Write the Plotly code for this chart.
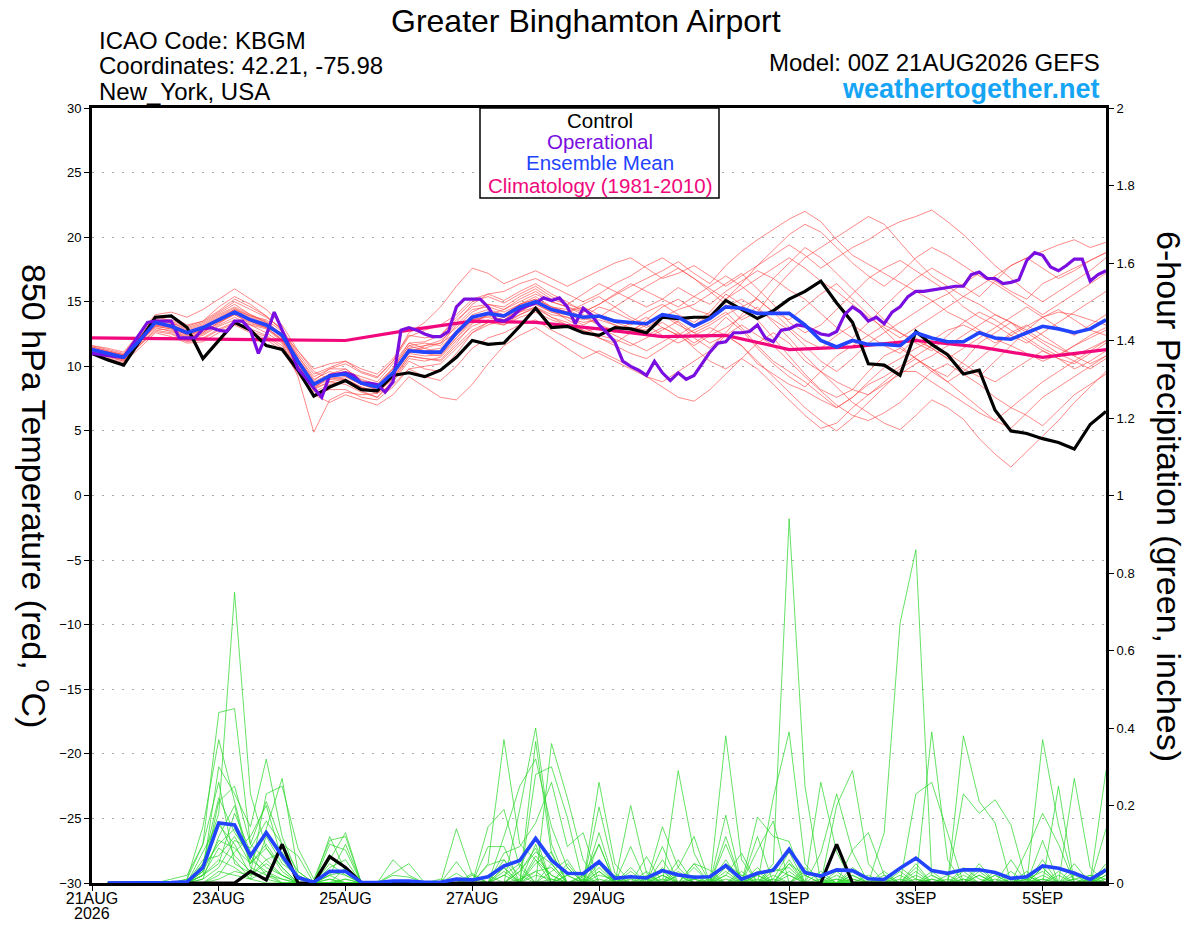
import pandas as pd
import plotly.graph_objects as go

# ---------------- DATA ----------------
run_start = "2026-08-21 00:00"
tick_dates = ["2026-08-21", "2026-08-23", "2026-08-25", "2026-08-27",
              "2026-08-29", "2026-09-01", "2026-09-03", "2026-09-05"]
tick_labels = ["21AUG", "23AUG", "25AUG", "27AUG", "29AUG", "1SEP", "3SEP", "5SEP"]
year_label = "2026"

# 850 hPa temperature (deg C), 6-hourly, 0..384 h
control_temp = [11.0, 10.5, 10.1, 12.0, 13.8, 13.9, 13.0, 10.6, 12.0, 13.4, 12.8, 11.6, 11.3,
                9.7, 7.7, 8.4, 8.9, 8.2, 8.1, 9.3, 9.5, 9.2, 9.7, 10.7, 12.0, 11.7,
                11.8, 13.1, 14.5, 13.0, 13.1, 12.6, 12.4, 13.0, 12.9, 12.6, 13.8, 13.7, 13.8,
                13.8, 15.1, 14.4, 13.7, 14.3, 15.2, 15.8, 16.6, 14.9, 13.4, 10.2, 10.1, 9.3,
                12.7, 11.7, 10.9, 9.4, 9.7, 6.6, 5.0, 4.8, 4.4, 4.1, 3.6, 5.5, 6.5]

ens_mean_temp = [11.3, 11.0, 10.7, 12.0, 13.4, 13.1, 12.6, 13.0, 13.6, 14.2, 13.6, 13.2, 12.4,
                 10.4, 8.6, 9.25, 9.4, 8.7, 8.4, 9.5, 11.2, 11.1, 11.1, 12.6, 13.8, 14.1,
                 13.9, 14.6, 15.0, 14.4, 14.1, 13.8, 13.9, 13.5, 13.4, 13.3, 14.0, 13.8, 13.1,
                 13.7, 14.6, 14.5, 14.1, 14.1, 14.1, 13.2, 12.0, 11.5, 12.0, 11.7, 11.7, 11.6,
                 12.6, 12.2, 11.9, 11.9, 12.6, 12.2, 12.1, 12.6, 13.1, 12.9, 12.6, 12.9, 13.6]

# operational run, 3-hourly, 0..384 h
operational_temp = [11.0, 10.9, 10.8, 10.75, 10.7, 11.6, 12.5, 13.4, 13.5, 13.5, 13.5, 12.2, 12.2,
                    12.2, 12.9, 13.0, 12.8, 12.7, 13.5, 13.5, 12.8, 11.0, 12.4, 14.2, 12.8, 11.4,
                    9.8, 9.1, 8.3, 7.6, 9.3, 9.4, 9.5, 9.3, 8.7, 8.7, 8.6, 8.0, 8.8,
                    12.8, 13.0, 12.8, 12.5, 12.3, 12.3, 12.7, 14.6, 15.2, 15.2, 15.2, 14.6, 13.6,
                    13.5, 13.8, 14.4, 14.7, 14.9, 15.3, 15.1, 15.3, 14.6, 13.3, 14.5, 14.0, 13.2,
                    12.6, 11.9, 10.4, 10.0, 9.7, 9.3, 10.4, 9.5, 8.9, 9.5, 9.0, 9.3, 10.2,
                    11.1, 11.8, 11.9, 12.6, 12.6, 12.7, 13.2, 12.2, 11.9, 12.8, 12.9, 13.2, 13.1,
                    12.8, 12.5, 12.4, 12.7, 14.0, 14.6, 14.2, 13.5, 13.8, 13.3, 14.2, 14.6, 15.4,
                    15.8, 15.8, 15.9, 16.0, 16.1, 16.2, 16.2, 17.1, 17.3, 16.8, 16.8, 16.4, 16.5,
                    16.7, 18.2, 18.8, 18.6, 17.7, 17.4, 17.8, 18.3, 18.3, 16.6, 17.1, 17.4]

# climatology (1981-2010), daily
climatology_temp = [12.2, 12.15, 12.1, 12.05, 12.0, 12.8, 13.5, 13.4, 12.9,
                    12.3, 12.4, 11.3, 11.5, 12.0, 11.5, 10.7, 11.3]

# ensemble members, 850 hPa temperature, 6-hourly
member_temps = [
    [11.5, 11.2, 10.9, 12.4, 13.8, 13.9, 13.2, 13.5, 14.6, 15.4, 14.8, 13.9, 12.8,
     10.6, 8.9, 9.8, 10.2, 9.5, 9.1, 10.4, 12.3, 12.8, 13.2, 14.0, 15.2, 15.6,
     15.1, 15.8, 16.4, 15.6, 15.0, 14.2, 14.8, 15.5, 16.2, 16.8, 17.4, 18.1, 17.2,
     16.4, 17.8, 18.9, 19.8, 20.6, 21.4, 22.0, 21.2, 19.8, 18.6, 17.9, 17.2, 16.5,
     15.8, 15.1, 14.2, 13.6, 12.8, 12.1, 11.6, 11.0, 10.4, 10.9, 11.6, 12.2, 12.8],
    [11.2, 10.9, 10.6, 11.6, 12.9, 12.8, 12.1, 12.4, 13.1, 13.6, 13.2, 12.6, 11.8,
     9.2, 4.9, 7.4, 8.0, 7.8, 7.9, 8.6, 9.8, 10.0, 10.2, 11.4, 12.6, 13.4,
     13.8, 14.2, 14.9, 14.4, 13.6, 13.0, 12.4, 12.1, 11.6, 12.2, 12.8, 13.5, 12.6,
     11.8, 12.4, 11.6, 10.2, 9.4, 8.6, 8.1, 7.4, 6.8, 7.6, 8.8, 9.9, 10.6,
     11.4, 12.0, 12.8, 13.2, 12.6, 11.8, 12.4, 13.1, 13.8, 14.2, 14.0, 13.6, 13.2],
    [11.0, 10.8, 10.4, 12.2, 13.1, 12.9, 12.2, 12.6, 13.4, 14.0, 13.3, 13.0, 12.0,
     10.2, 8.0, 8.6, 8.8, 8.1, 7.6, 8.9, 10.6, 10.4, 10.7, 12.0, 13.1, 13.6,
     13.2, 14.0, 14.5, 13.8, 13.2, 12.6, 13.0, 12.4, 11.8, 11.2, 11.9, 12.6, 11.4,
     10.4, 9.8, 10.6, 11.8, 12.6, 11.8, 10.4, 9.6, 8.4, 7.2, 6.4, 5.6, 5.1,
     6.2, 7.4, 6.8, 5.9, 4.4, 3.2, 2.2, 3.4, 4.6, 5.8, 7.2, 8.4, 9.6],
    [11.6, 11.3, 11.0, 12.5, 13.9, 13.5, 13.0, 13.4, 14.2, 15.0, 14.4, 13.8, 12.9,
     11.0, 9.4, 9.9, 10.4, 9.8, 9.4, 10.6, 12.4, 12.2, 12.4, 13.8, 15.0, 15.4,
     14.9, 15.6, 16.2, 15.4, 14.8, 15.6, 16.4, 15.8, 15.2, 14.6, 15.2, 16.1, 15.4,
     14.8, 15.8, 16.6, 17.4, 16.8, 15.9, 15.2, 14.1, 13.0, 12.2, 13.4, 14.6, 15.8,
     16.8, 17.6, 16.9, 16.2, 15.4, 16.6, 17.8, 18.4, 18.9, 19.4, 19.8, 19.2, 19.6],
    [11.3, 11.0, 10.7, 11.8, 13.2, 13.0, 12.4, 12.7, 13.3, 14.1, 13.5, 13.1, 12.6,
     11.2, 9.6, 9.0, 9.0, 8.4, 8.0, 9.0, 10.8, 10.6, 10.5, 11.8, 13.3, 14.0,
     14.4, 15.2, 15.8, 15.0, 14.6, 14.0, 13.2, 12.6, 13.4, 14.2, 14.8, 14.0, 13.4,
     14.2, 15.6, 14.8, 13.6, 12.2, 10.8, 9.4, 8.2, 7.6, 8.2, 9.6, 10.8, 11.4,
     10.6, 9.8, 9.2, 10.4, 11.8, 12.6, 13.4, 12.2, 11.4, 10.8, 11.6, 12.4, 13.0],
    [11.4, 11.1, 10.8, 12.0, 13.6, 13.4, 12.8, 13.2, 14.0, 14.6, 14.0, 13.4, 12.2,
     10.0, 8.2, 9.4, 9.8, 8.9, 8.6, 9.8, 11.6, 11.8, 11.6, 13.2, 14.4, 14.6,
     14.2, 14.8, 15.4, 14.6, 14.2, 13.8, 14.6, 14.2, 13.6, 13.0, 13.8, 14.4, 14.8,
     15.6, 16.4, 17.2, 16.0, 14.8, 13.4, 12.6, 13.2, 14.4, 15.6, 16.8, 17.6, 18.2,
     17.4, 16.6, 15.8, 14.6, 13.8, 13.2, 12.4, 11.8, 12.6, 13.4, 14.2, 15.0, 15.8],
    [10.9, 10.6, 10.3, 11.4, 12.6, 12.3, 11.8, 11.9, 12.6, 13.2, 12.6, 12.1, 11.2,
     9.4, 7.8, 8.2, 8.2, 7.6, 7.4, 8.4, 9.8, 9.2, 8.9, 10.0, 11.4, 12.2,
     12.6, 13.2, 13.6, 12.8, 12.2, 11.6, 11.0, 10.4, 9.8, 9.2, 8.8, 9.6, 10.4,
     11.2, 12.4, 13.2, 12.4, 11.6, 10.4, 9.2, 8.1, 7.0, 6.2, 5.8, 6.4, 7.2,
     8.4, 9.6, 10.2, 9.4, 8.6, 7.6, 6.8, 6.2, 5.4, 6.6, 7.8, 8.6, 9.4],
    [11.1, 10.9, 10.5, 12.1, 13.3, 13.2, 12.7, 13.0, 13.8, 14.4, 13.8, 13.3, 12.5,
     10.8, 9.0, 9.6, 9.2, 8.6, 8.2, 9.2, 11.0, 11.6, 12.0, 13.0, 14.2, 14.8,
     14.6, 15.4, 16.0, 15.2, 14.8, 14.4, 13.8, 14.6, 15.4, 16.2, 16.9, 17.6, 16.8,
     15.8, 14.8, 13.6, 14.2, 15.8, 17.2, 18.4, 19.2, 20.0, 20.8, 21.6, 21.0, 19.6,
     18.2, 17.0, 16.2, 15.4, 14.8, 14.0, 13.4, 12.8, 12.0, 11.4, 10.8, 11.4, 12.0],
    [11.4, 11.1, 10.9, 12.3, 13.5, 13.0, 12.4, 12.8, 13.6, 14.4, 13.9, 13.6, 12.7,
     10.4, 8.4, 9.1, 9.6, 9.2, 8.8, 10.2, 11.8, 11.4, 11.0, 12.4, 13.6, 13.9,
     13.6, 14.4, 14.8, 14.2, 14.0, 13.6, 13.9, 13.4, 13.0, 12.8, 13.4, 12.6, 11.8,
     12.6, 13.8, 12.8, 11.4, 10.2, 9.2, 8.4, 9.6, 10.8, 11.6, 12.4, 13.2, 12.6,
     11.8, 11.2, 12.4, 13.4, 14.2, 13.6, 12.8, 12.0, 11.2, 10.6, 10.2, 11.0, 11.8],
    [11.2, 11.0, 10.6, 11.9, 13.0, 12.7, 12.2, 12.5, 13.2, 13.8, 13.2, 12.9, 11.9,
     9.8, 8.6, 9.2, 9.0, 8.4, 8.0, 9.4, 11.0, 10.8, 10.9, 12.2, 13.4, 14.0,
     13.8, 14.6, 15.0, 14.4, 14.2, 14.8, 15.4, 14.6, 13.8, 13.2, 14.0, 13.4, 12.2,
     11.4, 12.6, 14.0, 15.4, 16.8, 18.0, 19.2, 18.4, 17.2, 16.0, 14.8, 13.6, 12.6,
     12.0, 11.4, 10.6, 9.8, 9.2, 10.4, 11.6, 12.8, 13.8, 14.4, 13.6, 12.8, 12.4],
    [11.3, 11.1, 10.7, 12.2, 13.6, 13.4, 12.9, 13.3, 14.1, 14.8, 14.0, 13.5, 12.4,
     10.6, 8.8, 9.4, 9.6, 8.8, 8.4, 9.8, 11.6, 11.2, 11.4, 12.8, 14.0, 14.4,
     14.0, 14.8, 15.2, 14.6, 14.4, 13.8, 13.2, 12.8, 12.6, 13.6, 14.6, 15.2, 14.4,
     14.0, 14.6, 15.2, 14.4, 13.6, 12.8, 11.6, 10.4, 9.6, 10.6, 11.8, 12.6, 13.4,
     14.2, 15.0, 15.6, 16.4, 17.2, 16.6, 15.8, 15.2, 16.4, 17.0, 17.6, 18.2, 18.8],
    [11.0, 10.7, 10.4, 11.7, 12.8, 12.6, 12.0, 12.2, 12.9, 13.4, 12.9, 12.4, 11.6,
     9.9, 8.3, 8.8, 8.6, 8.0, 7.6, 8.8, 10.4, 9.8, 9.6, 11.0, 12.6, 13.2,
     13.6, 14.2, 14.6, 13.8, 13.4, 12.8, 12.2, 11.6, 11.0, 10.6, 11.4, 12.2, 12.8,
     13.4, 14.2, 13.0, 11.6, 10.4, 9.6, 8.8, 7.8, 6.8, 7.6, 8.6, 9.2, 10.0,
     10.8, 11.6, 11.0, 10.2, 9.4, 8.8, 9.6, 10.4, 11.2, 10.6, 9.8, 10.4, 11.2],
    [11.5, 11.2, 10.9, 12.3, 13.7, 13.6, 13.1, 13.5, 14.3, 15.2, 14.6, 13.9, 12.8,
     10.8, 9.2, 9.8, 9.8, 9.0, 8.6, 9.9, 11.8, 11.9, 12.4, 13.6, 14.6, 14.8,
     14.4, 15.0, 15.6, 15.0, 14.6, 14.2, 14.8, 15.6, 16.4, 15.8, 15.2, 14.6, 15.4,
     16.2, 17.0, 16.2, 15.2, 14.2, 13.6, 14.6, 15.6, 16.4, 15.2, 14.0, 12.8, 11.6,
     10.6, 9.6, 8.8, 9.6, 10.6, 11.6, 12.6, 13.2, 12.4, 11.6, 10.8, 10.2, 10.8],
    [11.3, 11.0, 10.8, 12.0, 13.3, 13.1, 12.5, 12.9, 13.7, 14.3, 13.7, 13.2, 12.2,
     10.3, 8.6, 9.2, 9.4, 8.7, 8.4, 9.6, 11.4, 11.0, 10.8, 12.2, 13.6, 14.2,
     14.0, 14.8, 15.2, 14.6, 14.2, 14.6, 14.0, 13.6, 13.2, 13.8, 13.0, 12.4, 13.2,
     14.0, 15.2, 16.4, 17.8, 19.0, 20.2, 21.0, 20.4, 19.2, 18.0, 17.0, 16.2, 17.2,
     18.4, 19.2, 18.6, 17.8, 17.0, 16.4, 15.6, 14.8, 14.0, 14.8, 15.6, 16.4, 17.2],
    [11.2, 10.9, 10.6, 11.8, 13.1, 12.9, 12.3, 12.6, 13.4, 14.0, 13.4, 13.0, 12.1,
     10.1, 8.4, 9.0, 9.2, 8.6, 8.2, 9.4, 11.2, 11.0, 11.2, 12.6, 13.8, 14.2,
     13.8, 14.4, 14.8, 14.2, 13.8, 13.2, 13.8, 13.2, 12.8, 12.4, 13.0, 12.4, 11.6,
     12.4, 13.0, 13.8, 14.6, 13.4, 12.2, 10.8, 9.6, 8.8, 8.2, 7.8, 8.6, 9.4,
     10.2, 10.8, 11.6, 12.4, 13.2, 14.0, 13.4, 12.6, 11.8, 11.0, 10.4, 9.8, 10.6],
    [11.4, 11.1, 10.8, 12.1, 13.4, 13.2, 12.6, 12.9, 13.5, 14.2, 13.6, 13.2, 12.3,
     10.4, 8.6, 9.3, 9.4, 8.8, 8.4, 9.5, 11.2, 11.4, 11.8, 12.6, 13.6, 13.8,
     13.4, 14.0, 14.6, 14.0, 13.8, 13.4, 13.6, 13.2, 12.8, 13.4, 14.0, 13.2, 12.6,
     13.2, 14.0, 14.6, 15.2, 14.2, 13.0, 12.0, 11.4, 12.4, 13.2, 12.4, 11.6, 11.0,
     12.2, 11.4, 10.6, 11.4, 12.2, 13.0, 13.8, 14.6, 13.8, 13.0, 12.4, 13.2, 14.0],
    [11.6, 11.4, 11.1, 12.6, 14.0, 14.2, 13.8, 14.4, 15.2, 16.0, 15.2, 14.4, 13.2,
     11.2, 9.8, 10.2, 10.4, 9.6, 9.2, 10.4, 12.6, 13.4, 14.6, 16.2, 17.6, 17.2,
     16.4, 16.9, 17.4, 16.8, 16.2, 16.8, 17.4, 18.0, 18.4, 17.6, 16.8, 17.2, 17.8,
     17.0, 16.2, 17.0, 17.8, 18.6, 19.4, 18.6, 17.6, 18.4, 19.2, 19.8, 20.6, 21.2,
     21.6, 22.1, 21.2, 20.2, 19.0, 17.8, 16.8, 15.8, 15.0, 15.8, 16.6, 17.4, 18.4],
    [11.1, 10.8, 10.5, 11.6, 12.7, 12.5, 11.9, 12.1, 12.8, 13.3, 12.7, 12.3, 11.4,
     9.6, 7.8, 7.2, 7.8, 7.4, 7.0, 7.8, 9.2, 8.4, 7.6, 7.4, 8.6, 10.2,
     11.6, 12.4, 13.0, 12.2, 11.4, 10.6, 11.2, 10.6, 10.0, 9.2, 8.4, 7.6, 7.3,
     8.2, 9.4, 10.6, 9.8, 8.6, 7.4, 6.2, 5.2, 5.6, 6.8, 7.8, 8.8, 9.8,
     10.6, 9.8, 8.8, 7.8, 6.8, 5.8, 5.2, 6.4, 7.6, 8.4, 9.2, 10.0, 10.8],
    [11.3, 11.0, 10.7, 12.2, 13.5, 13.3, 12.7, 13.1, 13.9, 14.5, 13.9, 13.4, 12.5,
     10.5, 8.7, 9.3, 9.5, 8.8, 8.4, 9.6, 11.4, 11.6, 11.8, 13.4, 14.8, 15.6,
     15.8, 16.4, 16.8, 16.2, 15.6, 15.0, 15.6, 16.4, 17.0, 17.8, 18.4, 17.6, 16.8,
     16.0, 15.2, 16.0, 16.8, 17.6, 18.4, 17.6, 16.6, 15.8, 14.8, 13.8, 13.0, 12.2,
     13.0, 13.8, 14.6, 15.4, 16.2, 17.0, 17.8, 18.4, 17.6, 16.8, 17.4, 18.2, 18.8],
    [11.2, 10.9, 10.6, 11.9, 13.2, 13.0, 12.5, 12.8, 13.5, 14.1, 13.5, 13.0, 12.0,
     10.0, 8.2, 8.8, 9.0, 8.3, 7.9, 9.1, 10.8, 10.6, 10.4, 11.6, 12.8, 13.4,
     13.2, 13.8, 14.2, 13.6, 13.2, 12.8, 12.2, 11.8, 12.6, 13.2, 12.4, 11.8, 12.4,
     13.0, 12.4, 11.6, 10.4, 9.2, 8.0, 6.8, 5.8, 5.0, 6.0, 7.2, 8.4, 9.6,
     9.6, 8.8, 8.0, 7.2, 6.4, 5.8, 6.8, 7.8, 8.8, 9.6, 10.4, 11.2, 12.0],
]

# 6-hour precipitation (inches), 6-hourly, 6..384 h
control_precip = [0, 0, 0, 0, 0, 0, 0, 0, 0, 0.03, 0.008, 0.10, 0, 0, 0.068, 0.04,
                  0, 0, 0, 0, 0, 0, 0, 0, 0, 0, 0, 0, 0, 0, 0, 0,
                  0, 0, 0, 0, 0, 0, 0, 0, 0, 0, 0, 0, 0, 0, 0.10, 0,
                  0, 0, 0, 0, 0, 0, 0, 0, 0, 0, 0, 0, 0, 0, 0, 0]

ens_mean_precip = [0, 0, 0, 0, 0.001, 0.003, 0.04, 0.155, 0.15, 0.07, 0.13, 0.07, 0.014, 0.002, 0.03, 0.03,
                   0.002, 0.001, 0.005, 0.005, 0.002, 0.002, 0.01, 0.008, 0.016, 0.044, 0.058, 0.115, 0.059, 0.025, 0.024, 0.055,
                   0.012, 0.016, 0.013, 0.032, 0.021, 0.015, 0.016, 0.045, 0.01, 0.025, 0.033, 0.087, 0.027, 0.018, 0.034, 0.032,
                   0.011, 0.009, 0.038, 0.064, 0.032, 0.025, 0.034, 0.034, 0.027, 0.012, 0.016, 0.044, 0.038, 0.025, 0.009, 0.034]

member_precips = [
    [0, 0, 0, 0, 0, .01, .10, .44, .45, .10, .06, .02, 0, 0, .02, 0,
     0, 0, 0, 0, 0, 0, 0, 0, .05, .37, .10, .06, 0, 0, 0, .10,
     0, 0, 0, 0, .04, 0, 0, .10, 0, 0, .05, .94, .25, 0, 0, 0,
     0, 0, .03, 0, 0, 0, 0, .05, 0, 0, 0, .04, 0, 0, 0, .03],
    [0, 0, 0, 0, 0, 0, .05, .18, .75, .23, .09, .03, 0, 0, 0, .01,
     0, 0, 0, 0, 0, 0, 0, 0, 0, 0, .19, .40, .10, 0, 0, 0,
     0, .04, 0, 0, 0, .05, 0, .02, 0, .12, 0, 0, 0, 0, 0, 0,
     0, .13, .67, .86, .02, 0, 0, 0, .03, 0, 0, .04, 0, 0, 0, 0],
    [0, 0, 0, 0, 0, .01, .145, .37, .21, .05, .14, .27, .03, 0, .12, .03,
     0, 0, .06, .02, 0, 0, .14, .02, 0, 0, 0, .365, .077, 0, 0, .26,
     .05, 0, 0, .06, 0, 0, 0, .175, 0, 0, .22, .39, .05, 0, 0, 0,
     0, 0, 0, 0, .39, .06, 0, 0, 0, 0, 0, .11, 0, 0, 0, .05],
    [0, 0, 0, 0, 0, 0, .03, .30, .23, .145, .32, .12, .02, 0, .06, .13,
     0, 0, 0, 0, 0, 0, 0, 0, .145, .19, .04, 0, .36, .22, .06, 0,
     0, .20, .025, 0, .06, 0, 0, 0, 0, .17, .12, .107, 0, .26, .08, 0,
     0, 0, 0, .23, .26, .13, 0, 0, 0, 0, 0, .37, .15, 0, 0, 0],
    [0, 0, 0, 0, .01, .02, .10, .26, .05, .025, .23, .25, .09, .01, .11, .12,
     0, 0, .025, .05, 0, 0, 0, 0, 0, .12, .25, .32, .145, .04, 0, .13,
     0, 0, 0, .145, .04, .12, 0, .38, .06, 0, 0, 0, 0, .077, .23, .08,
     0, 0, 0, 0, 0, 0, .38, .21, .155, 0, 0, 0, 0, .27, .04, 0],
    [0, 0, 0, 0, 0, 0, .02, .21, .25, .10, .21, .10, .07, 0, .02, .10,
     0, 0, 0, 0, 0, 0, .055, 0, .094, .094, 0, .28, .30, .17, 0, .196,
     .025, 0, .068, 0, .29, .077, 0, .12, 0, .085, .16, 0, 0, 0, .20, .29,
     .05, 0, 0, 0, 0, 0, .23, .18, .215, .15, 0, 0, .25, 0, 0, .29],
    [0, 0, 0, 0, 0, 0, .06, .07, .12, .05, .09, .04, 0, 0, .10, .085,
     0, 0, .02, .015, 0, 0, .025, 0, 0, .077, .094, .155, .26, .094, .13, 0,
     0, .094, 0, .094, 0, 0, 0, .02, .077, 0, .02, 0, 0, 0, 0, .085,
     .13, .02, 0, 0, 0, 0, 0, 0, 0, 0, .085, .18, .10, 0, 0, .14],
    [0, 0, 0, 0, 0, 0, .02, .05, .18, .08, .04, .02, 0, 0, 0, 0,
     0, 0, 0, 0, 0, 0, 0, .025, 0, 0, .042, .12, 0, .04, 0, .06,
     0, .02, 0, 0, 0, .05, .033, 0, 0, .02, 0, .05, .02, 0, 0, 0,
     0, 0, 0, .04, 0, 0, 0, 0, 0, .06, 0, 0, 0, .05, 0, 0],
    [0, 0, 0, 0, 0, 0, .03, .15, .10, .02, .06, .08, .01, 0, .03, .02,
     0, 0, 0, 0, 0, 0, 0, 0, .046, .06, 0, .06, .02, 0, .016, .10,
     0, 0, 0, .02, 0, 0, 0, .03, 0, 0, 0, 0, .03, .02, 0, .01,
     0, .02, 0, 0, .03, 0, .01, 0, .02, 0, .03, 0, 0, .01, .02, 0],
    [0, 0, 0, 0, 0, 0, .01, .12, .20, .04, .02, .01, 0, 0, 0, .01,
     0, 0, 0, 0, 0, 0, 0, 0, 0, 0, .03, .08, .05, 0, 0, 0,
     .02, 0, 0, 0, .02, 0, .01, 0, 0, 0, .03, .04, 0, 0, .01, 0,
     0, 0, .02, 0, 0, .01, 0, .03, 0, 0, 0, .02, 0, 0, 0, .04],
    [0, 0, 0, 0, 0, 0, .02, .09, .06, .01, .12, .05, .02, 0, .01, 0,
     0, 0, 0, 0, 0, 0, 0, 0, 0, .04, 0, .10, 0, .02, 0, .03,
     0, .03, 0, .04, 0, 0, 0, .06, 0, .04, 0, 0, 0, .01, 0, 0,
     .02, 0, 0, .03, 0, 0, .02, 0, 0, .01, 0, 0, .03, 0, 0, .02],
    [0, 0, 0, 0, 0, 0, .04, .10, .14, .06, .03, 0, 0, 0, 0, .04,
     0, 0, 0, 0, 0, 0, 0, 0, 0, 0, 0, .05, .08, 0, .02, 0,
     0, 0, .01, 0, 0, .02, 0, 0, .02, 0, .04, .02, 0, 0, 0, .03,
     0, .01, 0, 0, 0, .02, 0, 0, 0, 0, .02, 0, 0, .03, 0, 0],
    [0, 0, 0, 0, 0, 0, 0, .02, .08, .12, .20, .06, .01, 0, .05, .02,
     0, 0, 0, 0, 0, 0, .01, 0, 0, .02, .05, 0, .03, .06, 0, .02,
     .01, 0, .03, 0, 0, .04, 0, 0, 0, 0, .01, 0, .02, 0, 0, .04,
     .01, 0, 0, .02, 0, 0, .04, .01, 0, 0, .02, 0, 0, 0, .01, 0],
    [0, 0, 0, 0, 0, 0, .08, .16, .07, .03, .01, 0, 0, 0, 0, 0,
     0, 0, 0, 0, 0, 0, 0, .02, 0, 0, 0, .03, .04, 0, .01, 0,
     0, 0, .02, 0, .03, 0, 0, .01, 0, 0, 0, .06, 0, .03, 0, 0,
     0, 0, .01, 0, 0, 0, 0, .02, 0, .03, 0, 0, .02, 0, 0, .01],
    [0, 0, 0, 0, 0, 0, .01, .04, .11, .09, .16, .10, .03, 0, .04, .06,
     0, 0, 0, 0, 0, 0, 0, 0, .02, 0, .03, .09, 0, .05, 0, .04,
     0, .01, 0, .03, 0, .01, 0, .05, .02, 0, 0, .03, 0, 0, .02, 0,
     0, .03, 0, 0, .01, 0, 0, .04, 0, 0, .01, .03, 0, 0, .02, .01],
    [0, 0, 0, 0, 0, 0, 0, .01, .03, .02, .05, .02, 0, 0, 0, 0,
     0, 0, 0, 0, 0, .01, 0, 0, 0, .03, 0, .02, .01, 0, 0, .01,
     0, 0, 0, .01, 0, 0, .02, 0, 0, .01, 0, 0, .04, 0, 0, .02,
     0, 0, 0, .01, 0, 0, .01, 0, .02, 0, 0, .01, 0, 0, 0, .02],
    [0, 0, 0, 0, 0, 0, .05, .22, .13, .07, .02, 0, 0, 0, .01, 0,
     0, 0, 0, 0, 0, 0, 0, 0, 0, .06, .02, 0, .05, 0, 0, .03,
     0, 0, 0, 0, .02, 0, 0, 0, .03, 0, .01, .08, 0, 0, .01, 0,
     0, 0, .04, .01, 0, 0, 0, .02, 0, 0, .01, 0, 0, .02, 0, 0],
    [0, 0, 0, 0, 0, 0, .02, .06, .04, .01, 0, 0, 0, 0, 0, 0,
     0, 0, 0, 0, 0, 0, 0, 0, 0, 0, .01, .03, 0, .02, 0, 0,
     0, 0, 0, 0, 0, .01, 0, 0, 0, .02, 0, 0, 0, 0, .03, 0,
     0, 0, 0, 0, .02, 0, 0, 0, .01, 0, 0, 0, 0, .01, 0, 0],
    [0, 0, 0, 0, 0, 0, .03, .11, .09, .05, .10, .04, 0, 0, .02, .03,
     0, 0, 0, 0, 0, 0, 0, .01, 0, .04, 0, .07, .02, 0, 0, .05,
     0, 0, 0, .02, 0, 0, 0, .04, 0, .03, 0, .05, 0, 0, 0, .02,
     0, 0, 0, .05, 0, 0, .03, 0, 0, 0, 0, .06, 0, 0, 0, .03],
    [0, 0, 0, 0, 0, 0, 0, .03, .02, .01, .03, .01, 0, 0, 0, 0,
     0, 0, 0, 0, 0, 0, 0, 0, 0, .02, 0, 0, .01, 0, 0, 0,
     .01, 0, 0, 0, 0, 0, 0, 0, .01, 0, 0, .02, 0, 0, 0, .01,
     0, 0, 0, 0, .01, 0, 0, 0, 0, 0, 0, .01, 0, 0, .01, 0],
]

# ---------------- FIGURE ----------------
t0 = pd.Timestamp(run_start)
times6 = pd.date_range(t0, periods=len(control_temp), freq="6h")
times3 = pd.date_range(t0, periods=len(operational_temp), freq="3h")
times_day = pd.date_range(t0, periods=len(climatology_temp), freq="1D")
times_p = times6[1:]

FONT = "Liberation Sans, Arial, Helvetica, sans-serif"
fig = go.Figure()

for m in member_temps:
    fig.add_trace(go.Scatter(x=times6, y=m, mode="lines", yaxis="y",
                             line=dict(color="rgba(255,70,70,0.8)", width=0.8),
                             hoverinfo="skip"))

fig.add_trace(go.Scatter(x=times_day, y=climatology_temp, mode="lines", yaxis="y",
                         line=dict(color="#f0087c", width=3.2)))
fig.add_trace(go.Scatter(x=times6, y=control_temp, mode="lines", yaxis="y",
                         line=dict(color="black", width=3.2)))
fig.add_trace(go.Scatter(x=times3, y=operational_temp, mode="lines", yaxis="y",
                         line=dict(color="#7a0ee0", width=3.2)))
fig.add_trace(go.Scatter(x=times6, y=ens_mean_temp, mode="lines", yaxis="y",
                         line=dict(color="#2244ff", width=3.6)))

for m in member_precips:
    fig.add_trace(go.Scatter(x=times_p, y=m, mode="lines", yaxis="y2",
                             line=dict(color="rgba(40,215,40,0.9)", width=0.8),
                             hoverinfo="skip"))
fig.add_trace(go.Scatter(x=times_p, y=control_precip, mode="lines", yaxis="y2",
                         line=dict(color="black", width=3.2)))
fig.add_trace(go.Scatter(x=times_p, y=ens_mean_precip, mode="lines", yaxis="y2",
                         line=dict(color="#2244ff", width=3.6)))

# target geometry in screen pixels (page body adds an 8px offset)
OFF = 8
SW, SH = 1200, 927
L, R, T, B = 92, 1106, 108, 883
W, H = SW - OFF, SH - OFF


def px(x):
    return (x - L) / (R - L)


def py(y):
    return (B - y) / (B - T)


fig.update_layout(
    width=W, height=H,
    margin=dict(l=L - OFF, r=W - (R - OFF), t=T - OFF, b=H - (B - OFF), autoexpand=False),
    paper_bgcolor="white", plot_bgcolor="white",
    showlegend=False,
    font=dict(family=FONT, color="black"),
    xaxis=dict(type="date", range=[t0, t0 + pd.Timedelta(hours=384)],
               tickvals=tick_dates, ticktext=tick_labels, automargin=False,
               ticks="outside", ticklen=5, tickwidth=1, tickcolor="black",
               ticklabelstandoff=-6,
               showline=True, linewidth=3, linecolor="black", mirror=True,
               showgrid=False, zeroline=False,
               tickfont=dict(size=16, family=FONT)),
    yaxis=dict(range=[-30, 30], tick0=0, dtick=5, automargin=False,
               ticks="outside", ticklen=5, tickwidth=1, tickcolor="black",
               showline=True, linewidth=3, linecolor="black",
               showgrid=True, gridcolor="#a8a8a8", gridwidth=1, griddash="2px,8px",
               zeroline=False, tickfont=dict(size=13, family=FONT)),
    yaxis2=dict(range=[0, 2], tick0=0, dtick=0.2, overlaying="y", side="right",
                automargin=False,
                ticks="outside", ticklen=5, tickwidth=1, tickcolor="black",
                showline=True, linewidth=3, linecolor="black",
                showgrid=False, zeroline=False, tickfont=dict(size=13, family=FONT)),
)

ann = []


def add_text(text, x, y, size, xanchor="center", color="black", angle=0, bold=False):
    if bold:
        text = "<b>" + text + "</b>"
    ann.append(dict(text=text, x=px(x), y=py(y), xref="paper", yref="paper",
                    xanchor=xanchor, yanchor="middle", showarrow=False,
                    textangle=angle, font=dict(size=size, color=color, family=FONT)))


add_text("Greater Binghamton Airport", 586, 21, 32)
add_text("ICAO Code: KBGM", 97, 40, 24, xanchor="left")
add_text("Coordinates: 42.21, -75.98", 97, 66, 24, xanchor="left")
add_text("New_York, USA", 97, 92, 24, xanchor="left")
add_text("Model: 00Z 21AUG2026 GEFS", 1102, 63, 24, xanchor="right")
add_text("weathertogether.net", 1102, 89, 27, xanchor="right", color="#16a4f4", bold=True)

add_text("Control", 600, 121, 20.5)
add_text("Operational", 600, 142, 20.5, color="#7a0ee0")
add_text("Ensemble Mean", 600, 163, 20.5, color="#2244ff")
add_text("Climatology (1981-2010)", 600, 185, 20.5, color="#f0087c")

add_text("850 hPa Temperature (red, <sup>o</sup>C)", 37, 496, 34, angle=90)
add_text("6-hour Precipitation (green, inches)", 1169, 496, 34, angle=90)

add_text(year_label, 92, 913, 16)

fig.update_layout(annotations=ann)
fig.add_shape(type="rect", xref="paper", yref="paper",
              x0=px(480), x1=px(719), y0=py(198), y1=py(108),
              line=dict(color="black", width=1.5), fillcolor="white", layer="above")

fig.write_html("out.html")
